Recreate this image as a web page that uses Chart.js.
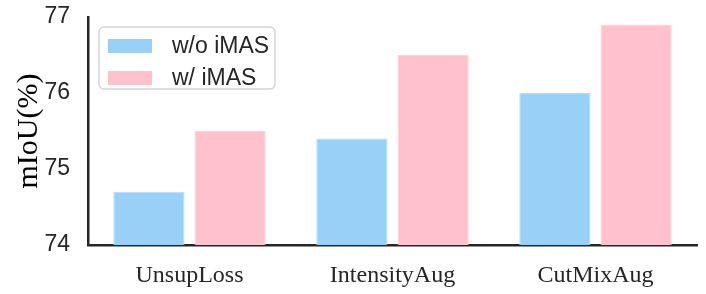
<!DOCTYPE html>
<html lang="en">
<head>
    <meta charset="UTF-8">
    <title>mIoU bar chart</title>
    <script src="https://cdn.jsdelivr.net/npm/chart.js"></script>
    <style>
        html, body { margin: 0; padding: 0; background: #fff; }
        #wrap { width: 706px; height: 294px; }
    </style>
</head>
<body>
    <div id="wrap"><canvas id="miouChart"></canvas></div>
    <script>
        // data
        var categories = ['UnsupLoss', 'IntensityAug', 'CutMixAug'];
        var seriesNames = ['w/o iMAS', 'w/ iMAS'];
        var withoutImas = [74.7, 75.4, 76.0];
        var withImas = [75.5, 76.5, 76.9];
        var yTicks = [74, 75, 76, 77];

        var axisColor = '#262626';
        var sans = "'Liberation Sans', Arial, sans-serif";
        var serif = "'Liberation Serif', 'Times New Roman', serif";

        // boxed legend in the upper left of the plot
        var boxLegend = {
            id: 'boxLegend',
            afterDraw: function (chart) {
                var ctx = chart.ctx;
                var x = 99, y = 27, w = 176, h = 62, r = 5;
                ctx.save();
                ctx.beginPath();
                ctx.roundRect(x, y, w, h, r);
                ctx.fillStyle = 'rgba(255,255,255,0.8)';
                ctx.fill();
                ctx.lineWidth = 1.5;
                ctx.strokeStyle = '#d6d6d6';
                ctx.stroke();
                ctx.font = '23px ' + sans;
                ctx.textBaseline = 'middle';
                chart.data.datasets.forEach(function (ds, i) {
                    var cy = 46 + i * 32;
                    ctx.fillStyle = ds.backgroundColor;
                    ctx.fillRect(108, cy - 7, 44, 14);
                    ctx.fillStyle = axisColor;
                    ctx.fillText(ds.label, 172, cy + 1);
                });
                ctx.restore();
            }
        };

        var ctx = document.getElementById('miouChart').getContext('2d');
        var miouChart = new Chart(ctx, {
            type: 'bar',
            data: {
                labels: categories,
                datasets: [{
                    label: seriesNames[0],
                    data: withoutImas,
                    backgroundColor: '#99D0F8',
                    borderColor: '#B5DDFA',
                    borderWidth: 1,
                    borderSkipped: 'bottom'
                }, {
                    label: seriesNames[1],
                    data: withImas,
                    backgroundColor: '#FFC2CD',
                    borderColor: '#FFD3DB',
                    borderWidth: 1,
                    borderSkipped: 'bottom'
                }]
            },
            options: {
                responsive: true,
                maintainAspectRatio: false,
                animation: false,
                categoryPercentage: 0.8,
                barPercentage: 0.877,
                layout: { padding: { top: 17, right: 9, left: 11, bottom: 0 } },
                plugins: {
                    legend: { display: false },
                    tooltip: { enabled: false }
                },
                scales: {
                    x: {
                        grid: { display: false, drawTicks: false },
                        border: { display: true, color: axisColor, width: 2.5 },
                        ticks: {
                            color: axisColor,
                            font: { family: serif, size: 24 },
                            padding: 16
                        },
                        afterFit: function (scale) {
                            scale.height = 49;
                            scale.paddingLeft = 0;
                            scale.paddingRight = 0;
                        }
                    },
                    y: {
                        min: 74,
                        max: 77,
                        afterBuildTicks: function (scale) {
                            scale.ticks = yTicks.map(function (v) { return { value: v }; });
                        },
                        grid: { display: false, drawTicks: false },
                        border: { display: true, color: axisColor, width: 2.5 },
                        ticks: {
                            color: axisColor,
                            font: { family: sans, size: 23 },
                            padding: 18
                        },
                        title: {
                            display: true,
                            text: 'mIoU(%)',
                            color: '#000',
                            font: { family: serif, size: 30 },
                            padding: { top: 0, bottom: 2 }
                        },
                        afterFit: function (scale) {
                            scale.width = 77;
                            scale.paddingTop = 0;
                            scale.paddingBottom = 0;
                        }
                    }
                }
            },
            plugins: [boxLegend]
        });
    </script>
</body>
</html>
